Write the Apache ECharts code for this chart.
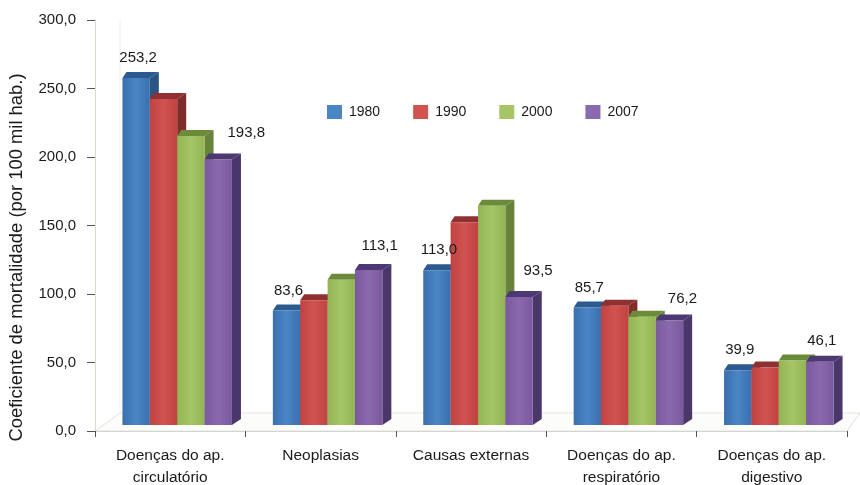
<!DOCTYPE html>
<html><head><meta charset="utf-8">
<style>html,body{margin:0;padding:0;background:#fff}#c{width:860px;height:485px}</style>
<script src="https://cdn.jsdelivr.net/npm/echarts@6/dist/echarts.min.js"></script>
</head><body><div id="c"></div>
<script>
const categories = ['Doenças do ap.\ncirculatório','Neoplasias','Causas externas','Doenças do ap.\nrespiratório','Doenças do ap.\ndigestivo'];
const years = ['1980','1990','2000','2007'];
const v1980 = [253.2,83.6,113.0,85.7,39.9];
const v1990 = [238,91,148,87,42];
const v2000 = [211,106,160,79,47];
const v2007 = [193.8,113.1,93.5,76.2,46.1];
const seriesValues = [v1980,v1990,v2000,v2007];
const labelled = [true,false,false,true];
const frontColors = [['#3a6fae','#4a86c6'],['#c04342','#d0534f'],['#93b452','#a6c665'],['#7a599f','#8a69ae']];
const topColors = ['#2d5a8e','#8e3130','#6b8a3a','#4c3872'];
const sideColors = ['#2a5483','#7f2c2b','#67823a','#483768'];
const purpleLabelShift = [[28,-27],[11,-24],[19,-26],[13,-22],[2,-21]];
const fmt = v => v.toFixed(1).replace('.',',');
const font = '"Liberation Sans", Arial, sans-serif';
const DX = 9, DY = -6, LIFT = -6;

function render(sIdx){
  return function(params, api){
    const cat = api.value(0), val = api.value(1);
    const p = api.coord([cat,val]), p0 = api.coord([cat,0]);
    const band = api.size([1,0])[0];
    const w = band*0.182;
    const x = p[0] + 7 - 2*w + sIdx*w;
    const yt = p[1]+LIFT, yb = p0[1]+LIFT;
    const kids = [
      {type:'polygon',shape:{points:[[x+w,yt],[x+w+DX,yt+DY],[x+w+DX,yb+DY],[x+w,yb]]},style:{fill:sideColors[sIdx]}},
      {type:'polygon',shape:{points:[[x,yt],[x+4,yt+DY],[x+w+DX,yt+DY],[x+w,yt]]},style:{fill:topColors[sIdx]}},
      {type:'rect',shape:{x:x,y:yt,width:w,height:yb-yt},style:{fill:new echarts.graphic.LinearGradient(0,0,1,0,[{offset:0,color:frontColors[sIdx][0]},{offset:.5,color:frontColors[sIdx][1]},{offset:1,color:frontColors[sIdx][0]}])}}
    ];
    if(labelled[sIdx]){
      const sh = sIdx===0 ? [2,-20] : purpleLabelShift[cat];
      kids.push({type:'text',z2:100,style:{x:x+w/2+sh[0],y:yt+sh[1],text:fmt(val),align:'center',verticalAlign:'middle',font:'15px '+font,fill:'#1a1a1a'}});
    }
    return {type:'group',children:kids};
  };
}

const chart = echarts.init(document.getElementById('c'),null,{renderer:'canvas'});
chart.setOption({
  animation:false,
  backgroundColor:'#fff',
  legend:{left:322,top:100,itemWidth:15,itemHeight:14,itemGap:33,icon:'rect',
    textStyle:{fontFamily:font,fontSize:14,color:'#1a1a1a',padding:[0,0,0,2]},data:years},
  grid:{left:95,right:13,top:20,bottom:54,outerBoundsMode:'none'},
  graphic:[
    {type:'polygon',z:0,shape:{points:[[95,431],[120,413],[860,413],[847,431]]},style:{fill:'#fcfcfa',stroke:'#e2e2dc',lineWidth:1}},
    {type:'line',z:0,shape:{x1:120,y1:20,x2:120,y2:413},style:{stroke:'#f4f0e8',lineWidth:1}}
  ],
  xAxis:{type:'category',data:categories,
    axisLine:{lineStyle:{color:'#d4d4d0'}},
    axisTick:{show:true,alignWithLabel:false,length:6,lineStyle:{color:'#555'}},
    axisLabel:{fontFamily:font,fontSize:15.5,color:'#1a1a1a',lineHeight:22,margin:14,interval:0}},
  yAxis:{type:'value',min:0,max:300,interval:50,
    name:'Coeficiente de mortalidade (por 100 mil hab.)',nameLocation:'middle',nameGap:69,
    nameTextStyle:{fontFamily:font,fontSize:18.4,color:'#1a1a1a',padding:[0,64,0,0]},
    axisLine:{show:true,lineStyle:{color:'#dcd8d0'}},
    axisTick:{show:true,length:8,lineStyle:{color:'#555'}},
    splitLine:{show:false},
    axisLabel:{fontFamily:font,fontSize:15,color:'#1a1a1a',margin:19,formatter:v=>fmt(v)}},
  series:years.map((y,i)=>({
    name:y,type:'custom',renderItem:render(i),
    itemStyle:{color:frontColors[i][1]},
    encode:{x:0,y:1},
    data:seriesValues[i].map((v,c)=>[c,v])
  }))
});
</script></body></html>
